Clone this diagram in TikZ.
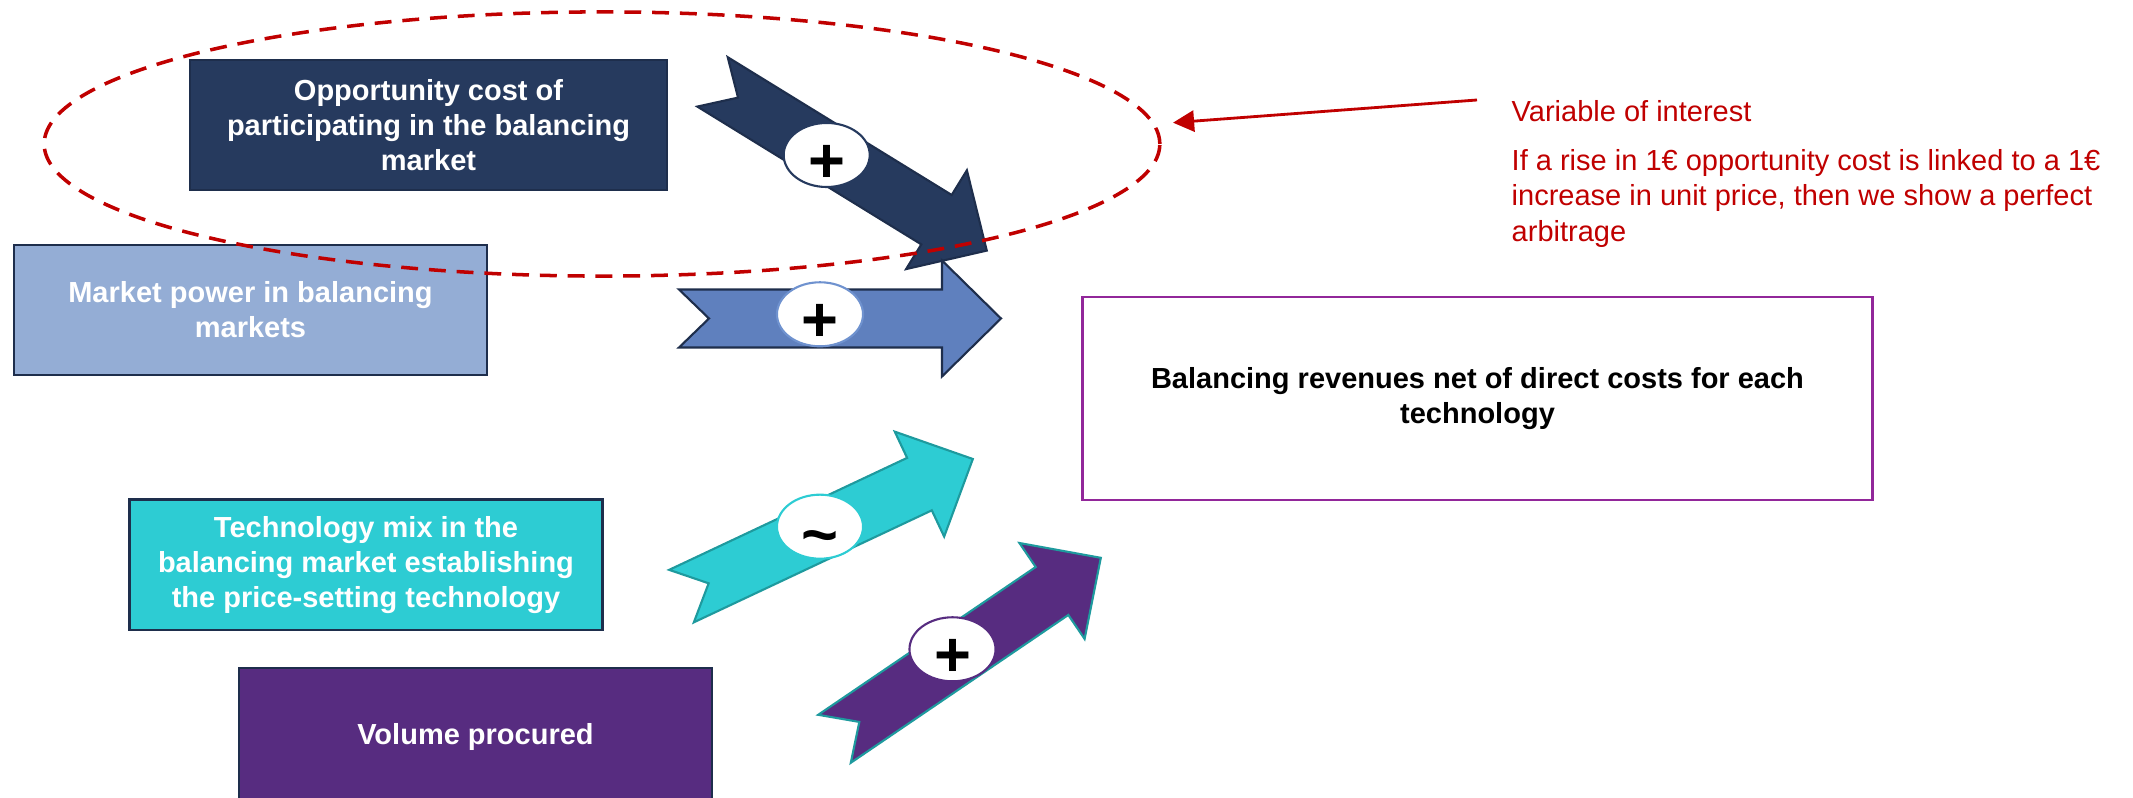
\documentclass[tikz,border=0pt]{standalone}
\usepackage{fontspec}
\setmainfont{Liberation Sans}
\usetikzlibrary{shapes.geometric,arrows.meta}
\definecolor{navy}{HTML}{263A5E}
\definecolor{navyedge}{HTML}{1E2E4C}
\definecolor{paleblue}{HTML}{94ADD5}
\definecolor{midblue}{HTML}{5F80BE}
\definecolor{midblueedge}{HTML}{6F92CF}
\definecolor{cyanfill}{HTML}{2DCCD3}
\definecolor{tealedge}{HTML}{1E9A9E}
\definecolor{purplefill}{HTML}{572C80}
\definecolor{magentaedge}{HTML}{92279A}
\definecolor{darkred}{HTML}{C00000}
% fat arrow: x, y (pixels, y down), angle, style
\newcommand\fatarrow[4]{%
  \draw[#4, shift={(#1,#2)}, rotate=#3, line join=miter]
    (0,29) -- (263,29) -- (263,58) -- (322,0) -- (263,-58) -- (263,-29)
    -- (0,-29) -- (30,0) -- cycle;}
\begin{document}
\begin{tikzpicture}[x=0.01cm, y=-0.01cm,
  boxtext/.style={font=\bfseries\fontsize{8.25}{9.96}\selectfont},
  box/.style={boxtext, draw=navyedge, line width=0.7pt, minimum width=4.73cm,
    minimum height=1.30cm, align=center, text=white, inner sep=0pt},
  badge/.style={ellipse, fill=white, line width=0.6pt, minimum width=0.86cm,
    minimum height=0.64cm, inner sep=0pt, font=\bfseries\fontsize{18}{18}\selectfont},
  redtext/.style={text=darkred, font=\fontsize{8.25}{10.1}\selectfont,
    inner sep=0pt, align=left},
]
\useasboundingbox (0,0) rectangle (2133,798);
\clip (0,0) rectangle (2133,798);

% boxes
\node[box, fill=navy, minimum width=4.77cm] (opp) at (428.5,125)
  {Opportunity cost of\\participating in the balancing\\market};
\node[box, fill=paleblue] (mkt) at (250.5,310)
  {Market power in balancing\\markets};
\node[box, fill=cyanfill] (tech) at (366,564.7)
  {Technology mix in the\\balancing market establishing\\the price-setting technology};
\node[box, fill=purplefill, minimum height=1.374cm] (vol) at (475.5,736.7)
  {Volume procured};
\node[box, draw=magentaedge, line width=0.8pt, fill=white, text=black,
  minimum width=7.89cm, minimum height=2.03cm] (bal) at (1477.5,398.5)
  {Balancing revenues net of direct costs for each\\technology};

% fat arrows
\fatarrow{712.5}{81.9}{-31.6}{fill=navy, draw=navyedge, line width=0.6pt}
\fatarrow{679}{318.5}{0}{fill=midblue, draw=navyedge, line width=0.6pt}
\fatarrow{681.5}{596.1}{25.2}{fill=cyanfill, draw=tealedge, line width=0.6pt}
\fatarrow{834.5}{738.8}{34.2}{fill=purplefill, draw=tealedge, line width=0.6pt}

% sign badges
\node[badge, draw=navy] (s1) at (826.7,155) {\smash{\raisebox{-7.8pt}{+}}};
\node[badge, draw=midblueedge] (s2) at (820,314.3) {\smash{\raisebox{-7.8pt}{+}}};
\node[badge, draw=cyanfill] (s3) at (820,526.7) {\smash{\raisebox{-8.4pt}{\textasciitilde}}};
\node[badge, draw=purplefill] (s4) at (952.5,649.3) {\smash{\raisebox{-7.8pt}{+}}};

% variable of interest
\node[ellipse, draw=darkred, line width=1pt, dash pattern=on 4.8pt off 3.1pt,
  minimum width=11.15cm, minimum height=2.64cm, inner sep=0pt] (roi) at (602,144) {};
\node[redtext, anchor=west] (voi) at (1511,111) {Variable of interest};
\node[redtext, anchor=west] (note) at (1511,198.3)
  {If a rise in 1€ opportunity cost is linked to a 1€\\increase in unit price, then we show a perfect\\arbitrage};
\coordinate (arrstart) at (1477,100);
\coordinate (arrtip) at (1173,122.7);
\draw[darkred, line width=0.8pt, -{Triangle[length=6pt,width=6pt]}] (arrstart) -- (arrtip);
\end{tikzpicture}
\end{document}
